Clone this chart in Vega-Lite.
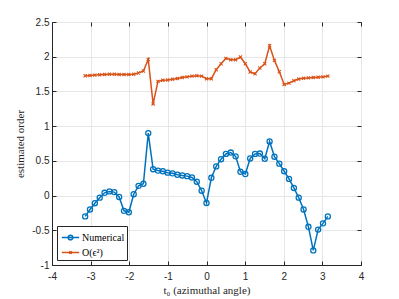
{
  "$schema": "https://vega.github.io/schema/vega-lite/v6.json",
  "width": 309,
  "height": 243,
  "autosize": {"type": "none"},
  "padding": {"left": 52, "top": 22, "right": 38, "bottom": 34},
  "background": "white",
  "datasets": {
    "main": [
      {"t": -3.1416, "order": -0.30, "series": "Numerical"},
      {"t": -3.0159, "order": -0.20, "series": "Numerical"},
      {"t": -2.8903, "order": -0.11, "series": "Numerical"},
      {"t": -2.7646, "order": -0.03, "series": "Numerical"},
      {"t": -2.6389, "order": 0.04, "series": "Numerical"},
      {"t": -2.5133, "order": 0.06, "series": "Numerical"},
      {"t": -2.3876, "order": 0.05, "series": "Numerical"},
      {"t": -2.2619, "order": -0.02, "series": "Numerical"},
      {"t": -2.1363, "order": -0.22, "series": "Numerical"},
      {"t": -2.0106, "order": -0.24, "series": "Numerical"},
      {"t": -1.8850, "order": 0.02, "series": "Numerical"},
      {"t": -1.7593, "order": 0.14, "series": "Numerical"},
      {"t": -1.6336, "order": 0.17, "series": "Numerical"},
      {"t": -1.5080, "order": 0.90, "series": "Numerical"},
      {"t": -1.3823, "order": 0.38, "series": "Numerical"},
      {"t": -1.2566, "order": 0.36, "series": "Numerical"},
      {"t": -1.1310, "order": 0.35, "series": "Numerical"},
      {"t": -1.0053, "order": 0.33, "series": "Numerical"},
      {"t": -0.8796, "order": 0.32, "series": "Numerical"},
      {"t": -0.7540, "order": 0.30, "series": "Numerical"},
      {"t": -0.6283, "order": 0.29, "series": "Numerical"},
      {"t": -0.5027, "order": 0.28, "series": "Numerical"},
      {"t": -0.3770, "order": 0.26, "series": "Numerical"},
      {"t": -0.2513, "order": 0.20, "series": "Numerical"},
      {"t": -0.1257, "order": 0.07, "series": "Numerical"},
      {"t": 0.0, "order": -0.106, "series": "Numerical"},
      {"t": 0.1257, "order": 0.256, "series": "Numerical"},
      {"t": 0.2513, "order": 0.42, "series": "Numerical"},
      {"t": 0.3770, "order": 0.524, "series": "Numerical"},
      {"t": 0.5027, "order": 0.60, "series": "Numerical"},
      {"t": 0.6283, "order": 0.62, "series": "Numerical"},
      {"t": 0.7540, "order": 0.565, "series": "Numerical"},
      {"t": 0.8796, "order": 0.343, "series": "Numerical"},
      {"t": 1.0053, "order": 0.31, "series": "Numerical"},
      {"t": 1.1310, "order": 0.535, "series": "Numerical"},
      {"t": 1.2566, "order": 0.60, "series": "Numerical"},
      {"t": 1.3823, "order": 0.605, "series": "Numerical"},
      {"t": 1.5080, "order": 0.53, "series": "Numerical"},
      {"t": 1.6336, "order": 0.78, "series": "Numerical"},
      {"t": 1.7593, "order": 0.56, "series": "Numerical"},
      {"t": 1.8850, "order": 0.46, "series": "Numerical"},
      {"t": 2.0106, "order": 0.35, "series": "Numerical"},
      {"t": 2.1363, "order": 0.24, "series": "Numerical"},
      {"t": 2.2619, "order": 0.11, "series": "Numerical"},
      {"t": 2.3876, "order": -0.03, "series": "Numerical"},
      {"t": 2.5133, "order": -0.20, "series": "Numerical"},
      {"t": 2.6389, "order": -0.45, "series": "Numerical"},
      {"t": 2.7646, "order": -0.79, "series": "Numerical"},
      {"t": 2.8903, "order": -0.49, "series": "Numerical"},
      {"t": 3.0159, "order": -0.40, "series": "Numerical"},
      {"t": 3.1416, "order": -0.30, "series": "Numerical"},
      {"t": -3.1416, "order": 1.726, "series": "O(ϵ²)"},
      {"t": -3.0159, "order": 1.73, "series": "O(ϵ²)"},
      {"t": -2.8903, "order": 1.735, "series": "O(ϵ²)"},
      {"t": -2.7646, "order": 1.74, "series": "O(ϵ²)"},
      {"t": -2.6389, "order": 1.745, "series": "O(ϵ²)"},
      {"t": -2.5133, "order": 1.747, "series": "O(ϵ²)"},
      {"t": -2.3876, "order": 1.747, "series": "O(ϵ²)"},
      {"t": -2.2619, "order": 1.745, "series": "O(ϵ²)"},
      {"t": -2.1363, "order": 1.743, "series": "O(ϵ²)"},
      {"t": -2.0106, "order": 1.743, "series": "O(ϵ²)"},
      {"t": -1.8850, "order": 1.748, "series": "O(ϵ²)"},
      {"t": -1.7593, "order": 1.765, "series": "O(ϵ²)"},
      {"t": -1.6336, "order": 1.795, "series": "O(ϵ²)"},
      {"t": -1.5080, "order": 1.96, "series": "O(ϵ²)"},
      {"t": -1.3823, "order": 1.32, "series": "O(ϵ²)"},
      {"t": -1.2566, "order": 1.645, "series": "O(ϵ²)"},
      {"t": -1.1310, "order": 1.66, "series": "O(ϵ²)"},
      {"t": -1.0053, "order": 1.665, "series": "O(ϵ²)"},
      {"t": -0.8796, "order": 1.675, "series": "O(ϵ²)"},
      {"t": -0.7540, "order": 1.685, "series": "O(ϵ²)"},
      {"t": -0.6283, "order": 1.70, "series": "O(ϵ²)"},
      {"t": -0.5027, "order": 1.71, "series": "O(ϵ²)"},
      {"t": -0.3770, "order": 1.72, "series": "O(ϵ²)"},
      {"t": -0.2513, "order": 1.725, "series": "O(ϵ²)"},
      {"t": -0.1257, "order": 1.72, "series": "O(ϵ²)"},
      {"t": 0.0, "order": 1.683, "series": "O(ϵ²)"},
      {"t": 0.1257, "order": 1.683, "series": "O(ϵ²)"},
      {"t": 0.2513, "order": 1.813, "series": "O(ϵ²)"},
      {"t": 0.3770, "order": 1.899, "series": "O(ϵ²)"},
      {"t": 0.5027, "order": 1.976, "series": "O(ϵ²)"},
      {"t": 0.6283, "order": 1.957, "series": "O(ϵ²)"},
      {"t": 0.7540, "order": 1.957, "series": "O(ϵ²)"},
      {"t": 0.8796, "order": 1.995, "series": "O(ϵ²)"},
      {"t": 1.0053, "order": 1.899, "series": "O(ϵ²)"},
      {"t": 1.1310, "order": 1.779, "series": "O(ϵ²)"},
      {"t": 1.2566, "order": 1.755, "series": "O(ϵ²)"},
      {"t": 1.3823, "order": 1.837, "series": "O(ϵ²)"},
      {"t": 1.5080, "order": 1.899, "series": "O(ϵ²)"},
      {"t": 1.6336, "order": 2.158, "series": "O(ϵ²)"},
      {"t": 1.7593, "order": 1.947, "series": "O(ϵ²)"},
      {"t": 1.8850, "order": 1.784, "series": "O(ϵ²)"},
      {"t": 2.0106, "order": 1.601, "series": "O(ϵ²)"},
      {"t": 2.1363, "order": 1.62, "series": "O(ϵ²)"},
      {"t": 2.2619, "order": 1.654, "series": "O(ϵ²)"},
      {"t": 2.3876, "order": 1.678, "series": "O(ϵ²)"},
      {"t": 2.5133, "order": 1.69, "series": "O(ϵ²)"},
      {"t": 2.6389, "order": 1.695, "series": "O(ϵ²)"},
      {"t": 2.7646, "order": 1.70, "series": "O(ϵ²)"},
      {"t": 2.8903, "order": 1.705, "series": "O(ϵ²)"},
      {"t": 3.0159, "order": 1.71, "series": "O(ϵ²)"},
      {"t": 3.1416, "order": 1.72, "series": "O(ϵ²)"}
    ]
  },
  "data": {"name": "main"},
  "config": {
    "view": {"stroke": "#262626", "strokeWidth": 1},
    "axis": {
      "domainColor": "#262626",
      "tickColor": "#262626",
      "labelColor": "#262626",
      "titleColor": "#262626",
      "labelFont": "Liberation Sans",
      "labelFontSize": 10,
      "titleFont": "Liberation Serif",
      "titleFontSize": 11,
      "titleFontWeight": "normal",
      "gridColor": "#e6e6e6",
      "gridWidth": 1,
      "tickSize": -4
    }
  },
  "layer": [
    {
      "mark": {"type": "line", "strokeWidth": 1.5},
      "encoding": {
        "x": {
          "field": "t", "type": "quantitative",
          "scale": {"domain": [-4, 4], "nice": false, "zero": false},
          "axis": {"orient": "bottom", "values": [-4, -3, -2, -1, 0, 1, 2, 3, 4], "labelExpr": "'' + datum.value", "title": "t₀ (azimuthal angle)", "titlePadding": 3, "labelPadding": 10, "labelFlush": false}
        },
        "y": {
          "field": "order", "type": "quantitative",
          "scale": {"domain": [-1, 2.5], "nice": false, "zero": false},
          "axis": {"orient": "left", "values": [-1, -0.5, 0, 0.5, 1, 1.5, 2, 2.5], "labelExpr": "'' + datum.value", "title": "estimated order", "titlePadding": 6, "labelPadding": 7, "labelFlush": false}
        },
        "color": {
          "field": "series", "type": "nominal",
          "scale": {"domain": ["Numerical", "O(ϵ²)"], "range": ["#0072BD", "#D95319"]},
          "legend": {
            "title": null,
            "orient": "bottom-left",
            "offset": 5,
            "strokeColor": "#262626",
            "fillColor": "white",
            "padding": 2,
            "rowPadding": 0,
            "labelFont": "Liberation Serif",
            "labelFontSize": 10,
            "labelColor": "#000000",
            "labelOffset": 2,
            "symbolSize": 300,
            "symbolStrokeWidth": 1.5,
            "symbolFillColor": "transparent",
            "symbolOffset": 2,
            "encode": {
              "symbols": {
                "update": {
                  "shape": {"signal": "datum.value === 'Numerical' ? 'M-1,0L1,0M0.27,0A0.27,0.27 0 1,1 -0.27,0A0.27,0.27 0 1,1 0.27,0' : 'M-1,0L1,0M-0.15,-0.15L0.15,0.15M-0.15,0.15L0.15,-0.15'"}
                }
              }
            }
          }
        }
      }
    },
    {
      "transform": [{"filter": "datum.series === 'Numerical'"}],
      "mark": {"type": "point", "filled": false, "strokeWidth": 1.3, "opacity": 1, "color": "#0072BD", "shape": "circle", "size": 26},
      "encoding": {
        "x": {"field": "t", "type": "quantitative", "axis": {"orient": "top", "values": [-4, -3, -2, -1, 0, 1, 2, 3, 4], "labels": false, "grid": false, "domain": false, "title": null}},
        "y": {"field": "order", "type": "quantitative", "axis": {"orient": "right", "values": [-1, -0.5, 0, 0.5, 1, 1.5, 2, 2.5], "labels": false, "grid": false, "domain": false, "title": null}}
      }
    },
    {
      "transform": [{"filter": "datum.series !== 'Numerical'"}],
      "mark": {"type": "point", "filled": false, "strokeWidth": 1.1, "opacity": 1, "color": "#D95319", "shape": "M-1,-1L1,1M-1,1L1,-1", "size": 10},
      "encoding": {
        "x": {"field": "t", "type": "quantitative", "axis": null},
        "y": {"field": "order", "type": "quantitative", "axis": null}
      }
    }
  ]
}
